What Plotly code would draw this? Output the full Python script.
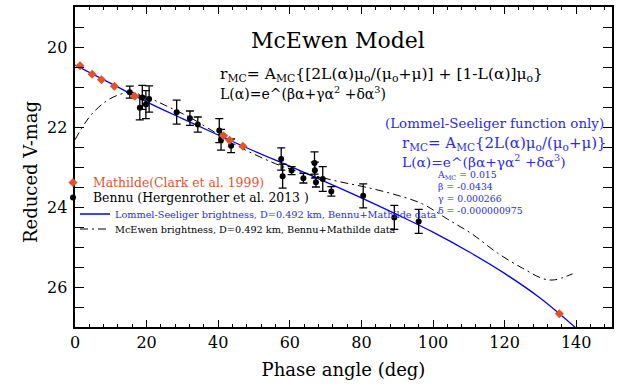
import plotly.graph_objects as go

# ---------------- data ----------------
mathilde_phase = [1.4, 4.8, 7.4, 11.0, 16.7, 41.5, 43.2, 46.9, 135.3]
mathilde_mag = [20.47, 20.68, 20.82, 20.98, 21.23, 22.22, 22.33, 22.48, 26.67]

bennu_phase = [15.3, 18.1, 18.8, 19.8, 20.7, 28.4, 32.1, 34.3, 40.3, 40.8, 43.6,
               57.6, 58.0, 60.5, 63.8, 66.9, 67.0, 67.3, 69.2, 71.6, 80.5, 89.2, 96.0]
bennu_mag = [21.13, 21.52, 21.26, 21.44, 21.30, 21.63, 21.78, 21.94, 22.09, 22.32, 22.47,
             22.80, 23.23, 23.09, 23.28, 22.90, 23.08, 23.38, 23.30, 23.61, 23.72, 24.26, 24.36]
bennu_err = [0.15, 0.30, 0.30, 0.35, 0.33, 0.30, 0.18, 0.19, 0.30, 0.26, 0.17,
             0.28, 0.30, 0.10, 0.12, 0.28, 0.20, 0.12, 0.31, 0.12, 0.30, 0.30, 0.30]

ls_phase = [0, 10, 20, 30, 40, 50, 60, 70, 80, 90, 100, 110, 120, 130, 140]
ls_mag = [20.45, 20.91, 21.37, 21.79, 22.20, 22.60, 22.98, 23.37, 23.77, 24.19,
          24.63, 25.12, 25.66, 26.28, 27.03]

mce_phase = [0, 2.8, 5.6, 9.3, 13, 15.5, 20, 25, 32.5, 37, 46, 55, 60, 67, 74, 81,
             89, 97, 104, 111, 118, 125, 131, 134, 139]
mce_mag = [22.32, 21.90, 21.59, 21.32, 21.17, 21.13, 21.25, 21.45, 21.78, 22.02, 22.50,
           22.88, 23.05, 23.22, 23.37, 23.50, 23.68, 23.92, 24.30, 24.68, 25.15, 25.53,
           25.80, 25.82, 25.67]

x_tick_vals = [0, 20, 40, 60, 80, 100, 120, 140]
y_tick_vals = [20, 22, 24, 26]
y_tick_text = ["20", "22", "24", "26"]

FONT = "DejaVu Serif"
RED = "rgb(226,84,40)"
BLUE = "rgb(40,40,255)"

fig = go.Figure()

fig.add_trace(go.Scatter(
    x=ls_phase, y=ls_mag, mode="lines", line=dict(color="blue", width=1.3, shape="spline"),
    name="<span style='color:rgb(40,40,255)'>Lommel-Seeliger brightness, D=0.492 km, Bennu+Mathilde data</span>",
    legend="legend3"))
fig.add_trace(go.Scatter(
    x=mce_phase, y=mce_mag, mode="lines",
    line=dict(color="black", width=1, dash="8px,4px,2px,4px", shape="spline"),
    name="McEwen brightness, D=0.492 km, Bennu+Mathilde data", legend="legend4"))
fig.add_trace(go.Scatter(
    x=bennu_phase, y=bennu_mag, mode="markers",
    marker=dict(color="black", size=6, symbol="circle"),
    error_y=dict(type="data", array=bennu_err, visible=True, color="black", thickness=1.3, width=4),
    name="Bennu (Hergenrother et al. 2013 )", legend="legend2"))
fig.add_trace(go.Scatter(
    x=mathilde_phase, y=mathilde_mag, mode="markers",
    marker=dict(color=RED, size=7, symbol="diamond"),
    name="<span style='color:rgb(226,84,40)'>Mathilde(Clark et al. 1999)</span>", legend="legend",
    showlegend=True))

def px2paper(px, py):
    return (px - 75) / 537.0, (327 - py) / 320.0

annots = []
def add_text(text, px, py, size, color="black", xanchor="left", yanchor="middle"):
    x, y = px2paper(px, py)
    annots.append(dict(text=text, x=x, y=y, xref="paper", yref="paper", xanchor=xanchor,
                       yanchor=yanchor, showarrow=False, align="left",
                       font=dict(family=FONT, size=size, color=color)))

add_text("McEwen Model", 338, 40, 22, xanchor="center")
add_text("r<sub>MC</sub>= A<sub>MC</sub>{[2L(α)μ<sub>o</sub>/(μ<sub>o</sub>+μ)] + [1-L(α)]μ<sub>o</sub>}", 218, 75, 15.5)
add_text("L(α)=e^(βα+γα<sup>2</sup> +δα<sup>3</sup>)", 218, 93, 14)
add_text("(Lommel-Seeliger function only)", 383, 123, 13.4, BLUE)
add_text("r<sub>MC</sub>= A<sub>MC</sub>{2L(α)μ<sub>o</sub>/(μ<sub>o</sub>+μ)}", 400, 143, 15, BLUE)
add_text("L(α)=e^(βα+γα<sup>2</sup> +δα<sup>3</sup>)", 400, 161, 13.8, BLUE)
add_text("A<sub>MC</sub> = 0.015<br>β = -0.0434<br>γ = 0.000266<br>δ = -0.000000975",
         435, 167, 9.3, BLUE, yanchor="top")

# y tick labels and y title placed with the y scale
lab_x = (45 - 75) / 537.0
for v, t in zip(y_tick_vals, y_tick_text):
    annots.append(dict(text=t, x=lab_x, y=v, xref="paper", yref="y", xanchor="left",
                       yanchor="middle", showarrow=False, font=dict(family=FONT, size=16, color="black")))
annots.append(dict(text="Reduced V-mag", x=-0.084, y=0.484, xref="paper", yref="paper",
                   xanchor="center", yanchor="middle", textangle=-90, showarrow=False,
                   font=dict(family=FONT, size=18, color="black")))

def leg(px, py, size):
    x, y = px2paper(px, py)
    return dict(font=dict(family=FONT, size=size, color="black"), bgcolor="rgba(0,0,0,0)",
                borderwidth=0, xanchor="left", yanchor="middle", itemwidth=30, x=x, y=y)

fig.update_layout(
    width=621, height=391,
    showlegend=True,
    margin=dict(l=75, r=9, t=7, b=64),
    paper_bgcolor="white", plot_bgcolor="white",
    font=dict(family=FONT, size=16, color="black"),
    annotations=annots,
    legend=leg(53, 183, 12.4),
    legend2=leg(53, 198, 12.4),
    legend3=leg(75, 214, 9.7),
    legend4=leg(75, 229, 9.7),
    xaxis=dict(range=[0, 150], tickvals=x_tick_vals, ticks="inside", ticklen=7, tickwidth=1,
               tickcolor="black", showline=True, linecolor="black", linewidth=1.5, mirror="ticks",
               showgrid=False, zeroline=False, automargin=False,
               minor=dict(dtick=4, tick0=0, ticks="inside", ticklen=3, tickcolor="black", tickwidth=1),
               title=dict(text="Phase angle (deg)", font=dict(family=FONT, size=18), standoff=12),
               tickfont=dict(family=FONT, size=16)),
    yaxis=dict(range=[27, 19], tickvals=y_tick_vals, ticks="inside", ticklen=9, tickwidth=1,
               tickcolor="black", showline=True, linecolor="black", linewidth=1.5, mirror="ticks",
               showgrid=False, zeroline=False, automargin=False, showticklabels=False,
               minor=dict(dtick=0.5, tick0=19, ticks="inside", ticklen=9, tickcolor="black", tickwidth=1)),
)

fig.write_html("out.html", config={"displayModeBar": False},
               post_script="document.body.style.margin='0';")
